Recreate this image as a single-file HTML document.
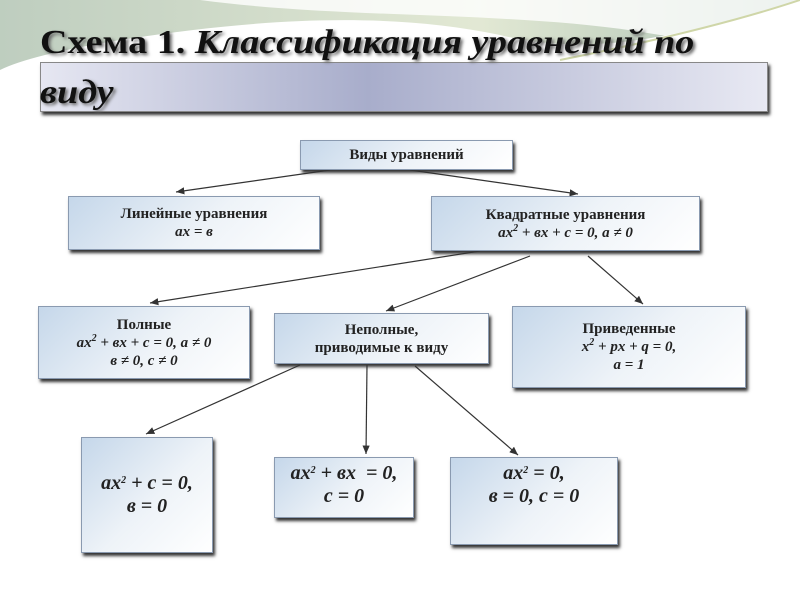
<!DOCTYPE html>
<html><head><meta charset="utf-8"><style>
body{margin:0;width:800px;height:600px;overflow:hidden;background:#fff;position:relative;font-family:"Liberation Serif","DejaVu Serif",serif}
.b{position:absolute;box-sizing:border-box;border:1px solid #8a9ab0;background:linear-gradient(135deg,#c5d7ea 0%,#eef3f8 55%,#ffffff 100%);box-shadow:2px 3px 3px #333;text-align:center;font-weight:bold;color:#222;display:flex;flex-direction:column;justify-content:center;font-size:15px;line-height:18px}
i{font-style:italic}
.big{font-size:20px;line-height:23px}
.t{position:absolute;font-weight:bold;font-size:34px;color:#111;text-shadow:2px 2px 3px #666;transform-origin:0 0;transform:scaleX(1.12);white-space:nowrap}
sup{font-size:10px;vertical-align:6px;line-height:0}
</style></head><body>
<svg width="800" height="600" style="position:absolute;left:0;top:0">
<defs><linearGradient id="g" x1="0" x2="1"><stop offset="0" stop-color="#b7c8b8"/><stop offset=".6" stop-color="#dfe6cf"/><stop offset="1" stop-color="#9db7a8"/></linearGradient>
<marker id="a" markerWidth="8" markerHeight="8" refX="7" refY="4" orient="auto"><path d="M0,1 L7,4 L0,7z" fill="#333"/></marker></defs>
<path d="M0,0 L800,0 L800,0 C700,30 600,60 500,35 C380,10 250,20 120,40 C60,50 20,60 0,70Z" fill="url(#g)" opacity=".9"/>
<path d="M200,0 C350,20 520,10 660,35 C720,45 770,20 800,10 L800,0Z" fill="#fff" opacity=".8"/>
<path d="M560,60 C660,40 740,20 800,0" stroke="#cfd6a8" stroke-width="2" fill="none"/>
<g stroke="#333" stroke-width="1.2" marker-end="url(#a)">
<line x1="330" y1="170" x2="176" y2="192"/>
<line x1="410" y1="170" x2="578" y2="194"/>
<line x1="480" y1="251" x2="150" y2="303"/>
<line x1="530" y1="256" x2="386" y2="311"/>
<line x1="588" y1="256" x2="643" y2="304"/>
<line x1="300" y1="365" x2="146" y2="434"/>
<line x1="367" y1="365" x2="366" y2="454"/>
<line x1="415" y1="366" x2="518" y2="455"/>
</g></svg>
<div style="position:absolute;left:40px;top:62px;width:728px;height:50px;box-sizing:border-box;border:1px solid #888;background:linear-gradient(90deg,#e6e7f2,#a8adcb 45%,#e8e9f3);box-shadow:2px 3px 3px #333"></div>
<div class="t" style="left:40px;top:24px">Схема 1. <i>Классификация уравнений по</i></div>
<div class="t" style="left:40px;top:74px"><i>виду</i></div>
<div class="b" style="left:300px;top:140px;width:213px;height:30px">Виды уравнений</div>
<div class="b" style="left:68px;top:196px;width:252px;height:54px">Линейные уравнения<i>ax = в</i></div>
<div class="b" style="left:431px;top:196px;width:269px;height:55px">Квадратные уравнения<i>ax<sup>2</sup> + вx + c = 0, a ≠ 0</i></div>
<div class="b" style="left:38px;top:306px;width:212px;height:73px">Полные<i>ax<sup>2</sup> + вx + c = 0, a ≠ 0</i><i>в ≠ 0, c ≠ 0</i></div>
<div class="b" style="left:274px;top:313px;width:215px;height:51px">Неполные,<br>приводимые к виду</div>
<div class="b" style="left:512px;top:306px;width:234px;height:82px">Приведенные<i>x<sup>2</sup> + px + q = 0,</i><i>a = 1</i></div>
<div class="b big" style="left:81px;top:437px;width:132px;height:116px"><i>ax<sup>2</sup> + c = 0,</i><i>в = 0</i></div>
<div class="b big" style="left:274px;top:457px;width:140px;height:61px;justify-content:flex-start;padding-top:4px"><i>ax<sup>2</sup> + вx&nbsp; = 0,</i><i>c = 0</i></div>
<div class="b big" style="left:450px;top:457px;width:168px;height:88px;justify-content:flex-start;padding-top:4px"><i>ax<sup>2</sup> = 0,</i><i>в = 0, c = 0</i></div>
</body></html>
